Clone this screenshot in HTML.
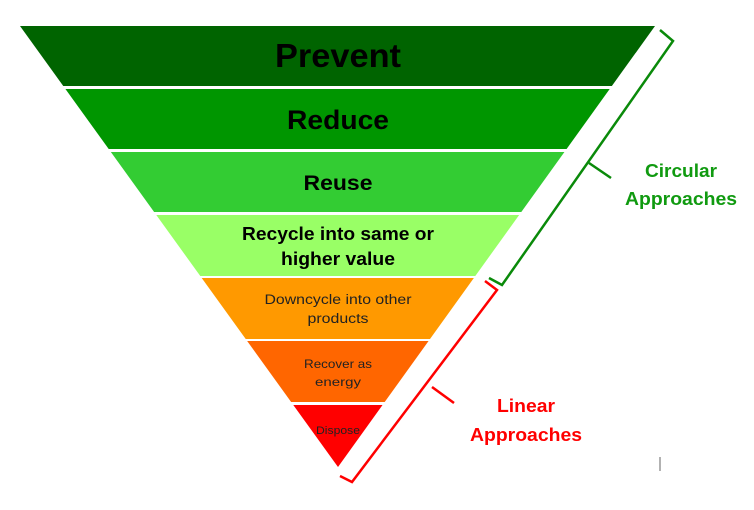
<!DOCTYPE html>
<html><head><meta charset="utf-8"><style>html,body{margin:0;padding:0;background:#fff}svg{display:block}</style></head>
<body>
<svg width="754" height="510" viewBox="0 0 754 510" xmlns="http://www.w3.org/2000/svg" font-family="Liberation Sans, sans-serif">
<defs><clipPath id="tri"><polygon points="20,26 655,26 338,467"/></clipPath></defs>
<g clip-path="url(#tri)">
<rect x="0" y="26" width="754" height="60" fill="#006400"/>
<rect x="0" y="89" width="754" height="60" fill="#009600"/>
<rect x="0" y="152" width="754" height="60" fill="#33cc33"/>
<rect x="0" y="215" width="754" height="61" fill="#99ff66"/>
<rect x="0" y="278" width="754" height="61" fill="#ff9900"/>
<rect x="0" y="341" width="754" height="61" fill="#ff6600"/>
<rect x="0" y="405" width="754" height="70" fill="#ff0000"/>
</g>
<g font-weight="bold" fill="#000" text-anchor="middle">
<text x="338" y="67" font-size="33" textLength="126" lengthAdjust="spacingAndGlyphs">Prevent</text>
<text x="338" y="129" font-size="27" textLength="102" lengthAdjust="spacingAndGlyphs">Reduce</text>
<text x="338" y="190" font-size="21" textLength="69" lengthAdjust="spacingAndGlyphs">Reuse</text>
<text x="338" y="240" font-size="18" textLength="192" lengthAdjust="spacingAndGlyphs">Recycle into same or</text>
<text x="338" y="265" font-size="18" textLength="114" lengthAdjust="spacingAndGlyphs">higher value</text>
</g>
<g fill="#222" text-anchor="middle">
<text x="338" y="304" font-size="13.5" textLength="147" lengthAdjust="spacingAndGlyphs">Downcycle into other</text>
<text x="338" y="323" font-size="13.5" textLength="61" lengthAdjust="spacingAndGlyphs">products</text>
<text x="338" y="368" font-size="12" textLength="68" lengthAdjust="spacingAndGlyphs">Recover as</text>
<text x="338" y="386" font-size="12" textLength="46" lengthAdjust="spacingAndGlyphs">energy</text>
<text x="338" y="434" font-size="11" textLength="44" lengthAdjust="spacingAndGlyphs">Dispose</text>
</g>
<g fill="none" stroke="#0a8a0a" stroke-width="2.5">
<polyline points="660,30 673,41 502,285 489,278"/>
<line x1="589" y1="163" x2="611" y2="178"/>
</g>
<g fill="none" stroke="#ff0000" stroke-width="2.5">
<polyline points="485,281 497,290 352,482 340,476"/>
<line x1="432" y1="387" x2="454" y2="403"/>
</g>
<g font-weight="bold" font-size="18" text-anchor="middle">
<text x="681" y="177" fill="#109a10" textLength="72" lengthAdjust="spacingAndGlyphs">Circular</text>
<text x="681" y="205" fill="#109a10" textLength="112" lengthAdjust="spacingAndGlyphs">Approaches</text>
<text x="526" y="412" fill="#ff0000" textLength="58" lengthAdjust="spacingAndGlyphs">Linear</text>
<text x="526" y="441" fill="#ff0000" textLength="112" lengthAdjust="spacingAndGlyphs">Approaches</text>
</g>
<line x1="660" y1="457" x2="660" y2="471" stroke="#666" stroke-width="1"/>
</svg>
</body></html>
